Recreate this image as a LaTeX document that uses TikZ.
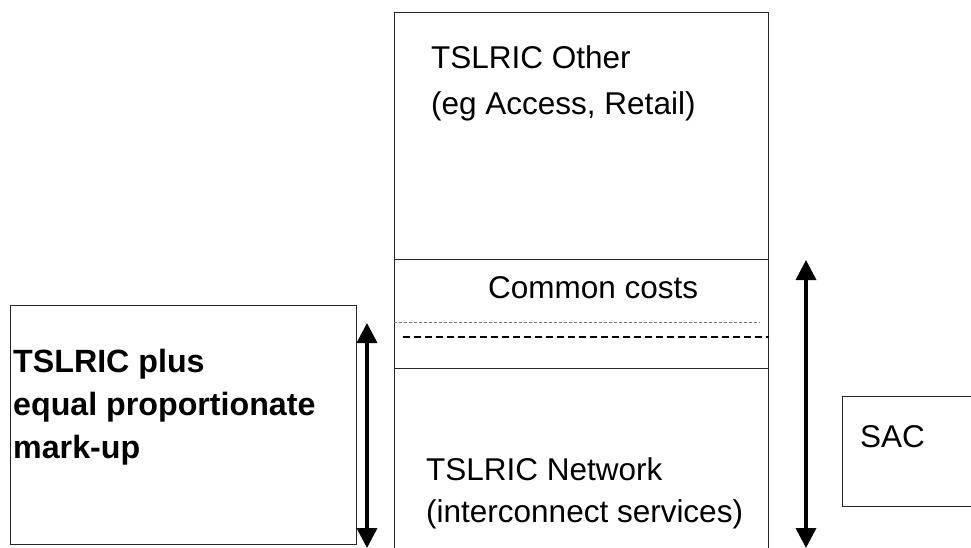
\documentclass[tikz,border=0pt]{standalone}
\usepackage{fontspec}
\setmainfont{Liberation Sans}
\usetikzlibrary{arrows.meta}

\begin{document}
\begin{tikzpicture}[x=1pt,y=-1pt,
  box/.style={draw=black!85, line width=1.1pt, inner sep=0pt, anchor=north west},
  label/.style={inner sep=0pt, anchor=base west, align=left},
  dblarrow/.style={line width=3.5pt,
    {Triangle[length=20pt,width=20pt]}-{Triangle[length=20pt,width=20pt]}},
  thindash/.style={draw=black!55, line width=0.8pt, dash pattern=on 3pt off 2pt},
  thickdash/.style={draw=black, line width=1.4pt, dash pattern=on 7pt off 4pt}
]
\useasboundingbox (0,0) rectangle (971,548);
\clip (0,0) rectangle (971,548);

% central cost column
\node[box, minimum width=374pt, minimum height=247pt] (other) at (394,12) {};
\node[box, minimum width=374pt, minimum height=109pt] (common) at (394,259) {};
\node[box, minimum width=374pt, minimum height=200pt] (network) at (394,368) {};

% left comparison box and SAC box
\node[box, minimum width=346pt, minimum height=239pt] (markup) at (10,305) {};
\node[box, minimum width=150pt, minimum height=110pt] (sacbox) at (842,396) {};

% texts (multi-line labels are placed by the baseline of their last line)
\node[label, font=\fontsize{31.5}{46}\selectfont] (othertext) at (431,115)
  {TSLRIC Other\\(eg Access, Retail)};
\node[label, font=\fontsize{31.5}{38}\selectfont] (commontext) at (488,298)
  {Common costs};
\node[label, font=\fontsize{31.5}{42}\selectfont] (networktext) at (426,522)
  {TSLRIC Network\\(interconnect services)};
\node[label, font=\bfseries\fontsize{32.2}{43}\selectfont] (markuptext) at (13,458)
  {TSLRIC plus\\equal proportionate\\mark-up};
\node[label, font=\fontsize{31.5}{38}\selectfont] (sactext) at (860,447) {SAC};

% dashed split of the common costs
\draw[thindash] ([yshift=-63pt]common.north west) -- ([xshift=-9pt,yshift=-63pt]common.north east);
\draw[thickdash] ([xshift=9pt,yshift=-78pt]common.north west) -- ([yshift=-78pt]common.north east);

% range arrows
\coordinate (leftTop) at (367,323);
\coordinate (leftBot) at (367,548);
\coordinate (rightTop) at (806,260);
\coordinate (rightBot) at (806,548);
\draw[dblarrow] (leftTop) -- (leftBot);
\draw[dblarrow] (rightTop) -- (rightBot);
\end{tikzpicture}
\end{document}
